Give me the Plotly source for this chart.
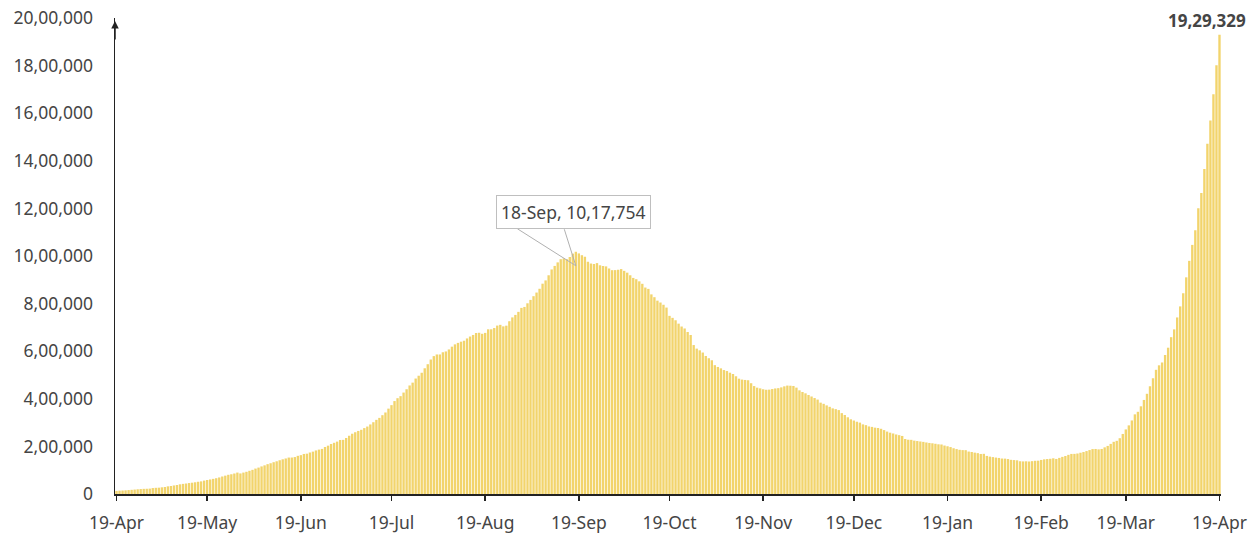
import pandas as pd
import plotly.graph_objects as go

# Daily active cases (19-Apr-2020 .. 19-Apr-2021)
apr_2020 = [12974, 14175, 14759, 15474, 16454, 17610, 18668, 19868, 20835, 21632, 22010, 22629]
may_2020 = [25007, 26027, 26535, 28046, 29453, 32138, 33514, 35902, 37916, 40698, 42533, 44029,
            46008, 47480, 49219, 51401, 53035, 56316, 58802, 61149, 63624, 66330, 69597, 73560,
            77103, 80722, 83004, 86110, 89987, 86422, 89995]
jun_2020 = [93322, 97581, 101497, 106737, 110960, 115942, 120406, 125381, 129215, 133632, 137448,
            141842, 145779, 149348, 153106, 153178, 155227, 160384, 163248, 168269, 169451, 174387,
            178014, 183022, 186514, 189463, 197387, 203051, 210120, 215125]
jul_2020 = [220114, 226947, 227439, 235433, 244814, 253287, 259557, 264944, 269789, 276882, 283407,
            292258, 301609, 311565, 319840, 331146, 342473, 358692, 373379, 390459, 402529, 411133,
            426167, 440135, 456071, 467882, 485114, 496988, 509447, 528242, 545318]
aug_2020 = [565103, 579357, 586298, 586244, 595501, 599000, 607384, 619088, 628747, 634945, 639929,
            643948, 653622, 661595, 668220, 676514, 677444, 673166, 676900, 692028, 692028, 697330,
            707668, 710771, 704348, 707267, 725991, 742023, 752424, 765302, 781975]
sep_2020 = [785996, 801282, 815538, 831124, 846395, 862320, 883697, 897394, 919018, 943480, 958316,
            973175, 986598, 990061, 986598, 995933, 1009976, 1017754, 1010824, 1003299, 996908,
            975861, 968377, 966382, 970116, 960969, 958000, 956402, 947576, 940441]
oct_2020 = [940705, 942217, 944996, 937625, 930000, 919023, 907883, 902425, 893592, 883185, 867496,
            861853, 838729, 826876, 812390, 804528, 795087, 783311, 748538, 740090, 730000, 715812,
            703687, 695509, 680680, 668154, 625857, 610803, 603687, 594386, 580000]
nov_2020 = [570458, 561908, 541405, 533787, 527962, 520773, 516632, 509673, 504232, 494657, 484547,
            480719, 479216, 478000, 465478, 453401, 446805, 443794, 440000, 438000, 438500, 440962,
            443486, 444746, 448000, 452344, 455555, 454940, 453956, 446952]
dec_2020 = [435603, 428644, 422943, 416082, 409689, 403248, 396729, 383866, 378909, 372293, 366243,
            359819, 356546, 352586, 339820, 332002, 322366, 313831, 308751, 303639, 300000, 292518,
            289240, 283849, 281919, 278690, 277301, 274000, 268581, 262272, 257656]
jan_2021 = [254254, 250183, 247220, 243953, 231036, 228083, 227546, 224190, 222526, 220676, 219000,
            216558, 214507, 213027, 211033, 208826, 208012, 203585, 200528, 197201, 192308, 188688,
            185662, 184408, 184182, 178257, 176498, 173740, 171686, 168235, 168784]
feb_2021 = [160057, 157000, 155025, 153000, 151460, 149000, 148609, 146907, 143625, 142562, 141511,
            137567, 136872, 137342, 136549, 138000, 139542, 140000, 143127, 145634, 146907, 148000,
            150055, 147306, 151708, 155986, 159590, 164511]
mar_2021 = [168358, 168627, 170126, 173413, 176319, 180304, 184598, 188747, 189226, 187462, 189226,
            196000, 202022, 210544, 219262, 223432, 234406, 252364, 271282, 288394, 309087, 334646,
            345377, 368457, 395192, 421066, 452647, 486310, 521808, 540720, 552566]
apr_2021 = [584055, 614696, 658909, 691597, 741830, 788223, 843473, 910319, 979608, 1046631, 1108087,
            1201009, 1264698, 1365704, 1471877, 1569743, 1679740, 1801316, 1929329]

values = (apr_2020 + may_2020 + jun_2020 + jul_2020 + aug_2020 + sep_2020 + oct_2020 + nov_2020
          + dec_2020 + jan_2021 + feb_2021 + mar_2021 + apr_2021)
dates = pd.date_range("2020-04-19", periods=len(values), freq="D")

x_tick_dates = ["2020-04-19", "2020-05-19", "2020-06-19", "2020-07-19", "2020-08-19", "2020-09-19",
                "2020-10-19", "2020-11-19", "2020-12-19", "2021-01-19", "2021-02-19", "2021-03-19",
                "2021-04-19"]
x_tick_labels = ["19-Apr", "19-May", "19-Jun", "19-Jul", "19-Aug", "19-Sep", "19-Oct", "19-Nov",
                 "19-Dec", "19-Jan", "19-Feb", "19-Mar", "19-Apr"]
y_tick_values = [0, 200000, 400000, 600000, 800000, 1000000, 1200000, 1400000, 1600000, 1800000, 2000000]
y_tick_labels = ["0", "2,00,000", "4,00,000", "6,00,000", "8,00,000", "10,00,000", "12,00,000",
                 "14,00,000", "16,00,000", "18,00,000", "20,00,000"]

peak_label = "18-Sep, 10,17,754"
last_label = "19,29,329"

FONT = "Noto Sans"
TXT = "#454545"
FS = 17.5

fig = go.Figure(go.Bar(x=dates, y=values, marker=dict(color="#F2D46C", line=dict(width=0)),
                       hoverinfo="skip"))

peak_i = values.index(max(values[:300]))
last_i = len(values) - 1

anns = []
# callout wedge lines
for ax in (-60, -12):
    anns.append(dict(x=dates[peak_i], y=values[peak_i], xref="x", yref="y", text="",
                     showarrow=True, arrowhead=0, arrowwidth=1, arrowcolor="#B0B0B0",
                     ax=ax, ay=-38, yshift=-14, standoff=0))
anns.append(dict(x=dates[peak_i], y=values[peak_i], xref="x", yref="y", text=peak_label,
                 showarrow=False, yanchor="bottom", yshift=23, xshift=-2,
                 bordercolor="#BFBFBF", borderwidth=1, borderpad=4, bgcolor="white",
                 font=dict(family=FONT, size=FS, color=TXT)))
anns.append(dict(x=dates[last_i], y=values[last_i], xref="x", yref="y", text="<b>" + last_label + "</b>",
                 showarrow=False, yanchor="bottom", yshift=1, xshift=-12,
                 font=dict(family=FONT, size=17, color=TXT)))
# arrow at top of y axis
anns.append(dict(x=0, y=1, xref="paper", yref="paper", text="", showarrow=True, arrowhead=2,
                 arrowsize=1, arrowwidth=1.5, arrowcolor="#222222", ax=0, ay=20, standoff=0,
                 yshift=-3))

fig.update_layout(
    width=1260, height=537,
    margin=dict(l=115, r=39, t=18, b=43),
    paper_bgcolor="white", plot_bgcolor="white",
    bargap=0.22, showlegend=False, hovermode=False,
    annotations=anns,
    font=dict(family=FONT, size=FS, color=TXT),
)
fig.update_xaxes(
    type="date", automargin=False,
    range=[dates[0] - pd.Timedelta(hours=12), dates[-1] + pd.Timedelta(hours=12)],
    tickvals=x_tick_dates, ticktext=x_tick_labels,
    showline=True, linecolor="#222222", linewidth=1.5,
    ticks="outside", ticklen=5, tickcolor="#222222", tickwidth=1.5,
    ticklabelstandoff=7,
    showgrid=False, zeroline=False,
    tickfont=dict(family=FONT, size=FS, color=TXT),
)
fig.update_yaxes(
    range=[0, 2000000], automargin=False,
    tickvals=y_tick_values, ticktext=y_tick_labels,
    showline=True, linecolor="#222222", linewidth=1.5,
    ticks="", ticklabelstandoff=17, ticklabeloverflow="allow",
    showgrid=False, zeroline=False,
    tickfont=dict(family=FONT, size=FS, color=TXT),
)

# remove the default page margin so the 1260x537 figure fills the window exactly
fig.write_html("out.html",
               config={"displayModeBar": False, "staticPlot": True},
               post_script="document.body.style.margin='0';document.documentElement.style.overflow='hidden';")
